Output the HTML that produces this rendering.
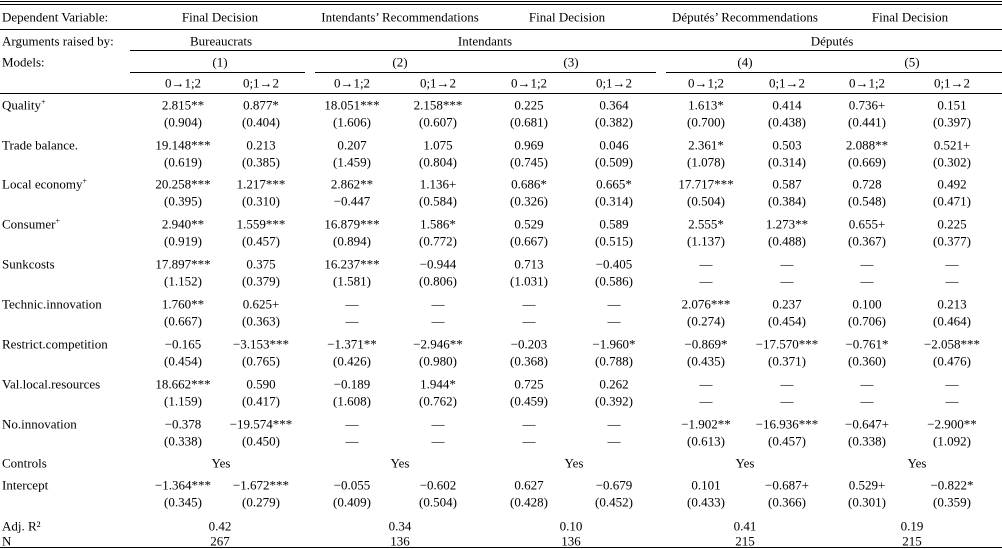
<!DOCTYPE html>
<html><head><meta charset="utf-8"><style>
body{margin:0;background:#fff;}
#t{position:relative;width:1002px;height:549px;font-family:"Liberation Serif",serif;font-size:13px;color:#000;overflow:hidden}
.c{position:absolute;white-space:nowrap;transform:translate(-50%,-50%);line-height:1}
.l{position:absolute;white-space:nowrap;transform:translateY(-50%);line-height:1;left:2px}
.h{position:absolute;height:1px;background:#000}
sup{font-size:8px}
</style></head><body>
<div id="t"></div>
<script>
const colX=[183,261,352,438,529,614,706,787,867,952];
const modelX=[220,400,571,745,912];
const depVars=["Final Decision","Intendants’ Recommendations","Final Decision","Députés’ Recommendations","Final Decision"];
const depX=[220,400,567,745,910];
const argGroups=["Bureaucrats","Intendants","Députés"];
const argX=[221,485,832];
const models=["(1)","(2)","(3)","(4)","(5)"];
const subHeads=["0→1;2","0;1→2","0→1;2","0;1→2","0→1;2","0;1→2","0→1;2","0;1→2","0→1;2","0;1→2"];
const D="—";
const rowNames=["Quality<sup>+</sup>","Trade balance.","Local economy<sup>+</sup>","Consumer<sup>+</sup>","Sunkcosts","Technic.innovation","Restrict.competition","Val.local.resources","No.innovation"];
const coefs=[
["2.815**","0.877*","18.051***","2.158***","0.225","0.364","1.613*","0.414","0.736+","0.151"],
["19.148***","0.213","0.207","1.075","0.969","0.046","2.361*","0.503","2.088**","0.521+"],
["20.258***","1.217***","2.862**","1.136+","0.686*","0.665*","17.717***","0.587","0.728","0.492"],
["2.940**","1.559***","16.879***","1.586*","0.529","0.589","2.555*","1.273**","0.655+","0.225"],
["17.897***","0.375","16.237***","−0.944","0.713","−0.405",D,D,D,D],
["1.760**","0.625+",D,D,D,D,"2.076***","0.237","0.100","0.213"],
["−0.165","−3.153***","−1.371**","−2.946**","−0.203","−1.960*","−0.869*","−17.570***","−0.761*","−2.058***"],
["18.662***","0.590","−0.189","1.944*","0.725","0.262",D,D,D,D],
["−0.378","−19.574***",D,D,D,D,"−1.902**","−16.936***","−0.647+","−2.900**"]];
const ses=[
["(0.904)","(0.404)","(1.606)","(0.607)","(0.681)","(0.382)","(0.700)","(0.438)","(0.441)","(0.397)"],
["(0.619)","(0.385)","(1.459)","(0.804)","(0.745)","(0.509)","(1.078)","(0.314)","(0.669)","(0.302)"],
["(0.395)","(0.310)","−0.447","(0.584)","(0.326)","(0.314)","(0.504)","(0.384)","(0.548)","(0.471)"],
["(0.919)","(0.457)","(0.894)","(0.772)","(0.667)","(0.515)","(1.137)","(0.488)","(0.367)","(0.377)"],
["(1.152)","(0.379)","(1.581)","(0.806)","(1.031)","(0.586)",D,D,D,D],
["(0.667)","(0.363)",D,D,D,D,"(0.274)","(0.454)","(0.706)","(0.464)"],
["(0.454)","(0.765)","(0.426)","(0.980)","(0.368)","(0.788)","(0.435)","(0.371)","(0.360)","(0.476)"],
["(1.159)","(0.417)","(1.608)","(0.762)","(0.459)","(0.392)",D,D,D,D],
["(0.338)","(0.450)",D,D,D,D,"(0.613)","(0.457)","(0.338)","(1.092)"]];
const intercept=["−1.364***","−1.672***","−0.055","−0.602","0.627","−0.679","0.101","−0.687+","0.529+","−0.822*"];
const interceptSE=["(0.345)","(0.279)","(0.409)","(0.504)","(0.428)","(0.452)","(0.433)","(0.366)","(0.301)","(0.359)"];
const controls=["Yes","Yes","Yes","Yes","Yes"];
const controlsX=[221,400,574,745,917];
const adjR2=["0.42","0.34","0.10","0.41","0.19"];
const nObs=["267","136","136","215","215"];
const T=document.getElementById('t');
function txt(cls,x,y,html,name){const e=document.createElement('div');e.className=cls;if(cls==='c')e.style.left=x+'px';e.style.top=y+'px';e.innerHTML=html;


T.appendChild(e);}
function hl(x1,x2,y,name){const e=document.createElement('div');e.className='h';e.style.left=x1+'px';e.style.width=(x2-x1)+'px';e.style.top=y+'px';


T.appendChild(e);}
hl(0,1002,1,'top-rule');hl(0,1002,4,'top-rule-2');hl(0,1002,29,'header-rule');
hl(130,1002,50,'arguments-rule');hl(130,305,72,'model1-rule');hl(315,656,72,'model23-rule');hl(666,1002,72,'model45-rule');
hl(0,1002,93,'subheader-rule');hl(0,1002,547,'bottom-rule');
txt('l',0,17,'Dependent Variable:','dependent-variable-label');
depVars.forEach((v,i)=>txt('c',depX[i],17,v,'dep-var-header'));
txt('l',0,41,'Arguments raised by:','arguments-label');
argGroups.forEach((v,i)=>txt('c',argX[i],41,v,'argument-group'));
txt('l',0,62,'Models:','models-label');
models.forEach((v,i)=>txt('c',modelX[i],62,v,'model-number'));
subHeads.forEach((v,i)=>txt('c',colX[i],83,v,'transition-header'));
const rowY=[105,145,184,224,264,304,344,384,424];
rowNames.forEach((n,r)=>{txt('l',0,rowY[r],n,'row-label');
coefs[r].forEach((v,i)=>txt('c',colX[i],rowY[r],v,'coefficient'));
ses[r].forEach((v,i)=>txt('c',colX[i],rowY[r]+17,v,'standard-error'));});
txt('l',0,463,'Controls','controls-label');
controls.forEach((v,i)=>txt('c',controlsX[i],463,v,'controls-value'));
txt('l',0,485,'Intercept','intercept-label');
intercept.forEach((v,i)=>txt('c',colX[i],485,v,'intercept-coef'));
interceptSE.forEach((v,i)=>txt('c',colX[i],502,v,'intercept-se'));
txt('l',0,526,'Adj. R²','adj-r2-label');
adjR2.forEach((v,i)=>txt('c',modelX[i],526,v,'adj-r2-value'));
txt('l',0,541,'N','n-label');
nObs.forEach((v,i)=>txt('c',modelX[i],541,v,'n-value'));
</script>
</body></html>
